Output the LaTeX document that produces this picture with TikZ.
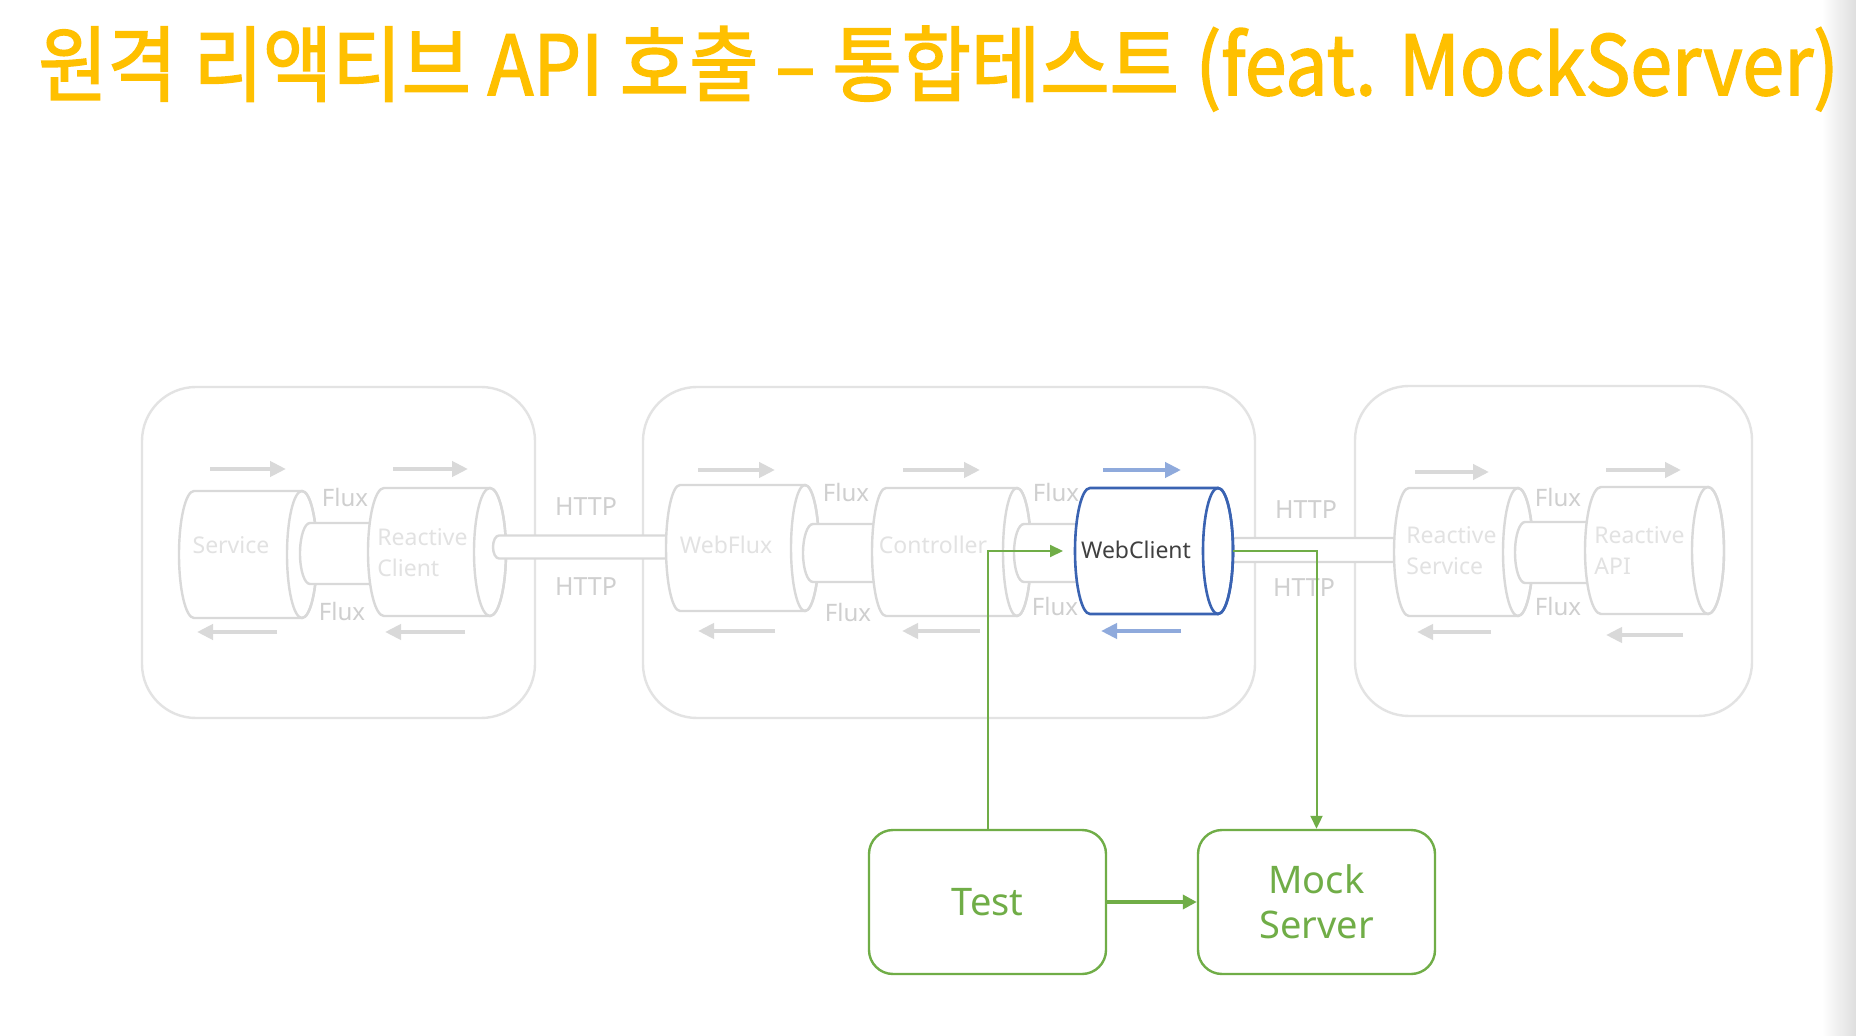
\documentclass[tikz,border=0pt]{standalone}
\usepackage{fontspec}
\setmainfont{Noto Sans}
\newfontfamily\krfont[FakeBold=2]{Noto Sans CJK KR}
\usetikzlibrary{arrows.meta,calc}
\definecolor{ttl}{HTML}{FFC000}
\definecolor{boxc}{HTML}{E3E3E3}
\definecolor{cylc}{HTML}{D9D9D9}
\definecolor{lblc}{HTML}{E2E2E2}
\definecolor{fluxc}{HTML}{CFCFCF}
\definecolor{arrc}{HTML}{D9D9D9}
\definecolor{wcblue}{HTML}{3A63B2}
\definecolor{lblue}{HTML}{8FAADC}
\definecolor{grn}{HTML}{70AD47}
\definecolor{wctext}{HTML}{404040}
\tikzset{
  region/.style={draw=boxc, line width=1.2pt, rounded corners=27pt},
  cylgrey/.style={draw=cylc, line width=1.2pt, fill=white},
  cylblue/.style={draw=wcblue, line width=1.3pt, fill=white},
  flow/.style={color=arrc, line width=2.2pt, -{Triangle[length=8pt,width=7.5pt]}},
  flowblue/.style={flow, color=lblue},
  fluxlbl/.style={text=fluxc, font=\fontsize{12}{14}\selectfont, inner sep=0pt},
  lbl/.style={text=lblc, font=\fontsize{11.5}{15.5}\selectfont, inner sep=0pt, align=left},
  httplbl/.style={text=fluxc, font=\fontsize{12.5}{15}\selectfont, inner sep=0pt},
  gbox/.style={draw=grn, line width=1.2pt, rounded corners=12pt, minimum width=118.5pt,
    minimum height=72pt, text=grn, font=\fontsize{19}{22.5}\selectfont, align=center, fill=white},
  glink/.style={draw=grn, line width=1pt, -{Triangle[length=6.5pt,width=6pt]}},
}
% #1 name, #2 left centre x, #3 right centre x, #4 yc, #5 ry, #6 rx, #7 style
\newcommand\mycyl[7]{%
  \path[#7] (#2,#4-#5) -- (#3,#4-#5) arc[start angle=-90,end angle=90,x radius=#6,y radius=#5]
    -- (#2,#4+#5) arc[start angle=90,end angle=270,x radius=#6,y radius=#5] -- cycle;
  \path[#7,fill=none] (#3,#4) ellipse[x radius=#6,y radius=#5];
  \coordinate (#1-w) at (#2-#6,#4);
  \coordinate (#1-e) at (#3+#6,#4);
}
% pipe: #1 name, #2 left centre x, #3 right end x, #4 yc, #5 ry, #6 rx, #7 style
\newcommand\mypipe[7]{%
  \path[#7] (#2,#4-#5) -- (#3,#4-#5) -- (#3,#4+#5) -- (#2,#4+#5)
    arc[start angle=90,end angle=270,x radius=#6,y radius=#5] -- cycle;
  \coordinate (#1-w) at (#2-#6,#4);
}
\begin{document}
\begin{tikzpicture}[x=0.5pt,y=-0.5pt]
\path[fill=white] (0,0) rectangle (1856,1036);
\useasboundingbox (0,0) rectangle (1856,1036);
\shade[left color=white,right color=black!13] (1822,0) rectangle (1856,1036);

% title
\node[anchor=base west, inner sep=0pt, text=ttl] (title) at (38,95)
  {\resizebox{900pt}{34.5pt}{\krfont 원격 리액티브 API 호출 – 통합테스트 (feat. MockServer)}};

% region boxes
\draw[region] (142,387) rectangle (535,718);
\draw[region] (643,387) rectangle (1255,718);
\draw[region] (1355,386) rectangle (1752,716);

% cylinders and pipes
\mycyl{svc}{194}{302}{554.5}{63.5}{15}{cylgrey}
\mypipe{pa}{310}{400}{553.5}{30.5}{10}{cylgrey}
\mycyl{rc}{384}{490}{552}{64}{16}{cylgrey}
\mypipe{ha}{499}{700}{547}{11.5}{6}{cylgrey}
\mycyl{wf}{680}{805}{548}{63}{14}{cylgrey}
\mypipe{pb}{813}{900}{553}{29}{10}{cylgrey}
\mycyl{ctl}{886}{1017}{552}{64}{14}{cylgrey}
\mypipe{pc}{1024}{1100}{553}{29}{10}{cylgrey}
\mypipe{hb}{1218}{1420}{550}{12}{6}{cylgrey}
\mycyl{wc}{1090}{1218}{551}{63}{15}{cylblue}
\mycyl{rs}{1409}{1518}{552}{64}{15}{cylgrey}
\mypipe{pd}{1525}{1610}{552.5}{30.5}{10}{cylgrey}
\mycyl{ra}{1601}{1708}{550.5}{63.5}{16}{cylgrey}

% labels
\node[lbl] (lsvc) at (231,545) {Service};
\node[lbl, anchor=west] (lrc) at (377,553) {Reactive\\Client};
\node[lbl] (lwf) at (726,545) {WebFlux};
\node[lbl] (lctl) at (933,545) {Controller};
\node[lbl, text=wctext] (lwc) at (1136,550) {WebClient};
\node[lbl, anchor=west] (lrs) at (1406,551) {Reactive\\Service};
\node[lbl, anchor=west] (lra) at (1594,551) {Reactive\\API};

\node[fluxlbl] (f1) at (345,498) {Flux};
\node[fluxlbl] (f2) at (342,611) {Flux};
\node[fluxlbl] (f3) at (846,493) {Flux};
\node[fluxlbl] (f4) at (848,612) {Flux};
\node[fluxlbl] (f5) at (1056,493) {Flux};
\node[fluxlbl] (f6) at (1055,607) {Flux};
\node[fluxlbl] (f7) at (1558,498) {Flux};
\node[fluxlbl] (f8) at (1558,607) {Flux};

\node[httplbl] (h1) at (586,507) {HTTP};
\node[httplbl] (h2) at (586,587) {HTTP};
\node[httplbl] (h3) at (1306,510) {HTTP};
\node[httplbl] (h4) at (1304,588) {HTTP};

% flow arrows
\coordinate (a1s) at (210,469); \coordinate (a1e) at (286,469);
\coordinate (a2s) at (277,632); \coordinate (a2e) at (197,632);
\coordinate (a3s) at (393,469); \coordinate (a3e) at (468,469);
\coordinate (a4s) at (465,632); \coordinate (a4e) at (385,632);
\coordinate (a5s) at (698,470); \coordinate (a5e) at (775,470);
\coordinate (a6s) at (775,631); \coordinate (a6e) at (698,631);
\coordinate (a7s) at (903,470); \coordinate (a7e) at (980,470);
\coordinate (a8s) at (980,631); \coordinate (a8e) at (902,631);
\coordinate (a9s) at (1103,470); \coordinate (a9e) at (1181,470);
\coordinate (a10s) at (1181,631); \coordinate (a10e) at (1101,631);
\coordinate (a11s) at (1415,472); \coordinate (a11e) at (1489,472);
\coordinate (a12s) at (1491,632); \coordinate (a12e) at (1417,632);
\coordinate (a13s) at (1606,470); \coordinate (a13e) at (1681,470);
\coordinate (a14s) at (1683,635); \coordinate (a14e) at (1606,635);
\foreach \i in {1,...,8,11,12,13,14} {\draw[flow] (a\i s) -- (a\i e);}
\draw[flowblue] (a9s) -- (a9e);
\draw[flowblue] (a10s) -- (a10e);

% test part
\node[gbox] (test) at (987.5,902) {Test};
\node[gbox] (mock) at (1316.5,902) {Mock\\Server};
\draw[glink, shorten >=6pt] (test.north) |- (wc-w);
\draw[glink] (wc-e) -| (mock.north);
\draw[glink, line width=2pt, -{Triangle[length=7pt,width=7pt]}] (test.east) -- (mock.west);
\end{tikzpicture}
\end{document}
